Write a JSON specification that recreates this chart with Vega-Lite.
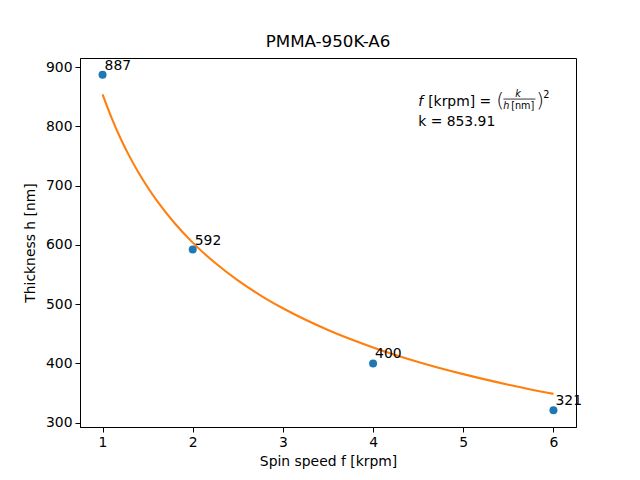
{
  "$schema": "https://vega.github.io/schema/vega-lite/v6.json",
  "width": 496,
  "height": 369,
  "autosize": {"type": "none"},
  "padding": {"left": 80, "top": 58, "right": 64, "bottom": 53},
  "background": "white",
  "config": {
    "font": "DejaVu Sans",
    "view": {"stroke": "black", "strokeWidth": 1},
    "axis": {
      "grid": false,
      "domainColor": "black",
      "tickColor": "black",
      "tickSize": 5,
      "labelFont": "DejaVu Sans",
      "labelFontSize": 13.9,
      "labelColor": "black",
      "titleFont": "DejaVu Sans",
      "titleFontSize": 13.9,
      "titleFontWeight": "normal",
      "titleColor": "black",
      "labelPadding": 3
    }
  },
  "title": {
    "text": "PMMA-950K-A6",
    "font": "DejaVu Sans",
    "fontSize": 16.7,
    "fontWeight": "normal",
    "color": "black",
    "offset": 7
  },
  "datasets": {
    "points": [
      {"f": 1, "h": 887, "label": "887"},
      {"f": 2, "h": 592, "label": "592"},
      {"f": 4, "h": 400, "label": "400"},
      {"f": 6, "h": 321, "label": "321"}
    ],
    "fit": [
      {"f": 1.0, "h": 853.9},
      {"f": 1.1, "h": 814.2},
      {"f": 1.2, "h": 779.5},
      {"f": 1.3, "h": 748.9},
      {"f": 1.4, "h": 721.7},
      {"f": 1.5, "h": 697.2},
      {"f": 1.6, "h": 675.1},
      {"f": 1.8, "h": 636.5},
      {"f": 2.0, "h": 603.8},
      {"f": 2.25, "h": 569.3},
      {"f": 2.5, "h": 540.1},
      {"f": 2.75, "h": 514.9},
      {"f": 3.0, "h": 493.0},
      {"f": 3.5, "h": 456.4},
      {"f": 4.0, "h": 427.0},
      {"f": 4.5, "h": 402.5},
      {"f": 5.0, "h": 381.9},
      {"f": 5.5, "h": 364.1},
      {"f": 6.0, "h": 348.6}
    ],
    "note": [
      {"f": 4.5, "h": 800, "label": "k = 853.91"}
    ]
  },
  "encoding": {
    "x": {
      "field": "f",
      "type": "quantitative",
      "scale": {"domain": [0.75, 6.25], "nice": false, "zero": false},
      "axis": {"values": [1, 2, 3, 4, 5, 6], "title": "Spin speed f [krpm]", "titlePadding": 6, "format": "d"}
    },
    "y": {
      "field": "h",
      "type": "quantitative",
      "scale": {"domain": [292.7, 915.3], "nice": false, "zero": false},
      "axis": {"values": [300, 400, 500, 600, 700, 800, 900], "title": "Thickness h [nm]", "titlePadding": 8, "format": "d"}
    }
  },
  "layer": [
    {
      "data": {"name": "fit"},
      "mark": {"type": "line", "color": "#ff7f0e", "strokeWidth": 2.08, "interpolate": "monotone"}
    },
    {
      "data": {"name": "points"},
      "mark": {"type": "circle", "color": "#1f77b4", "size": 64, "opacity": 1}
    },
    {
      "data": {"name": "points"},
      "mark": {"type": "text", "align": "left", "baseline": "alphabetic", "dx": 2, "dy": -5, "fontSize": 13.9, "color": "black"},
      "encoding": {"text": {"field": "label"}}
    },
    {
      "data": {"name": "note"},
      "layer": [
        {
          "mark": {"type": "text", "align": "left", "baseline": "alphabetic", "fontSize": 13.9, "color": "black"},
          "encoding": {"text": {"field": "label"}}
        },
        {
          "mark": {"type": "text", "align": "left", "baseline": "alphabetic", "fontSize": 13.9, "fontStyle": "italic", "color": "black", "dy": -20, "dx": 0, "text": "f"}
        },
        {
          "mark": {"type": "text", "align": "left", "baseline": "alphabetic", "fontSize": 13.9, "color": "black", "dy": -20, "dx": 10, "text": "[krpm] ="}
        },
        {
          "mark": {"type": "text", "align": "left", "baseline": "alphabetic", "fontSize": 20, "fontWeight": 300, "color": "black", "dy": -19, "dx": 78, "text": "("}
        },
        {
          "mark": {"type": "text", "align": "center", "baseline": "alphabetic", "fontSize": 9.7, "fontStyle": "italic", "color": "black", "dy": -29, "dx": 100, "text": "k"}
        },
        {
          "mark": {"type": "text", "align": "left", "baseline": "alphabetic", "fontSize": 9.7, "fontStyle": "italic", "color": "black", "dy": -17, "dx": 85, "text": "h"}
        },
        {
          "mark": {"type": "text", "align": "left", "baseline": "alphabetic", "fontSize": 9.7, "color": "black", "dy": -17, "dx": 93, "text": "[nm]"}
        },
        {
          "mark": {"type": "text", "align": "left", "baseline": "alphabetic", "fontSize": 20, "fontWeight": 300, "color": "black", "dy": -19, "dx": 118, "text": ")"}
        },
        {
          "mark": {"type": "text", "align": "left", "baseline": "alphabetic", "fontSize": 9.7, "color": "black", "dy": -28, "dx": 125, "text": "2"}
        }
      ]
    },
    {
      "data": {"values": [{"fa": 5.445, "fb": 5.8, "hb": 846}]},
      "mark": {"type": "rule", "color": "black", "strokeWidth": 0.8},
      "encoding": {
        "x": {"field": "fa", "type": "quantitative"},
        "x2": {"field": "fb"},
        "y": {"field": "hb", "type": "quantitative"}
      }
    }
  ]
}
